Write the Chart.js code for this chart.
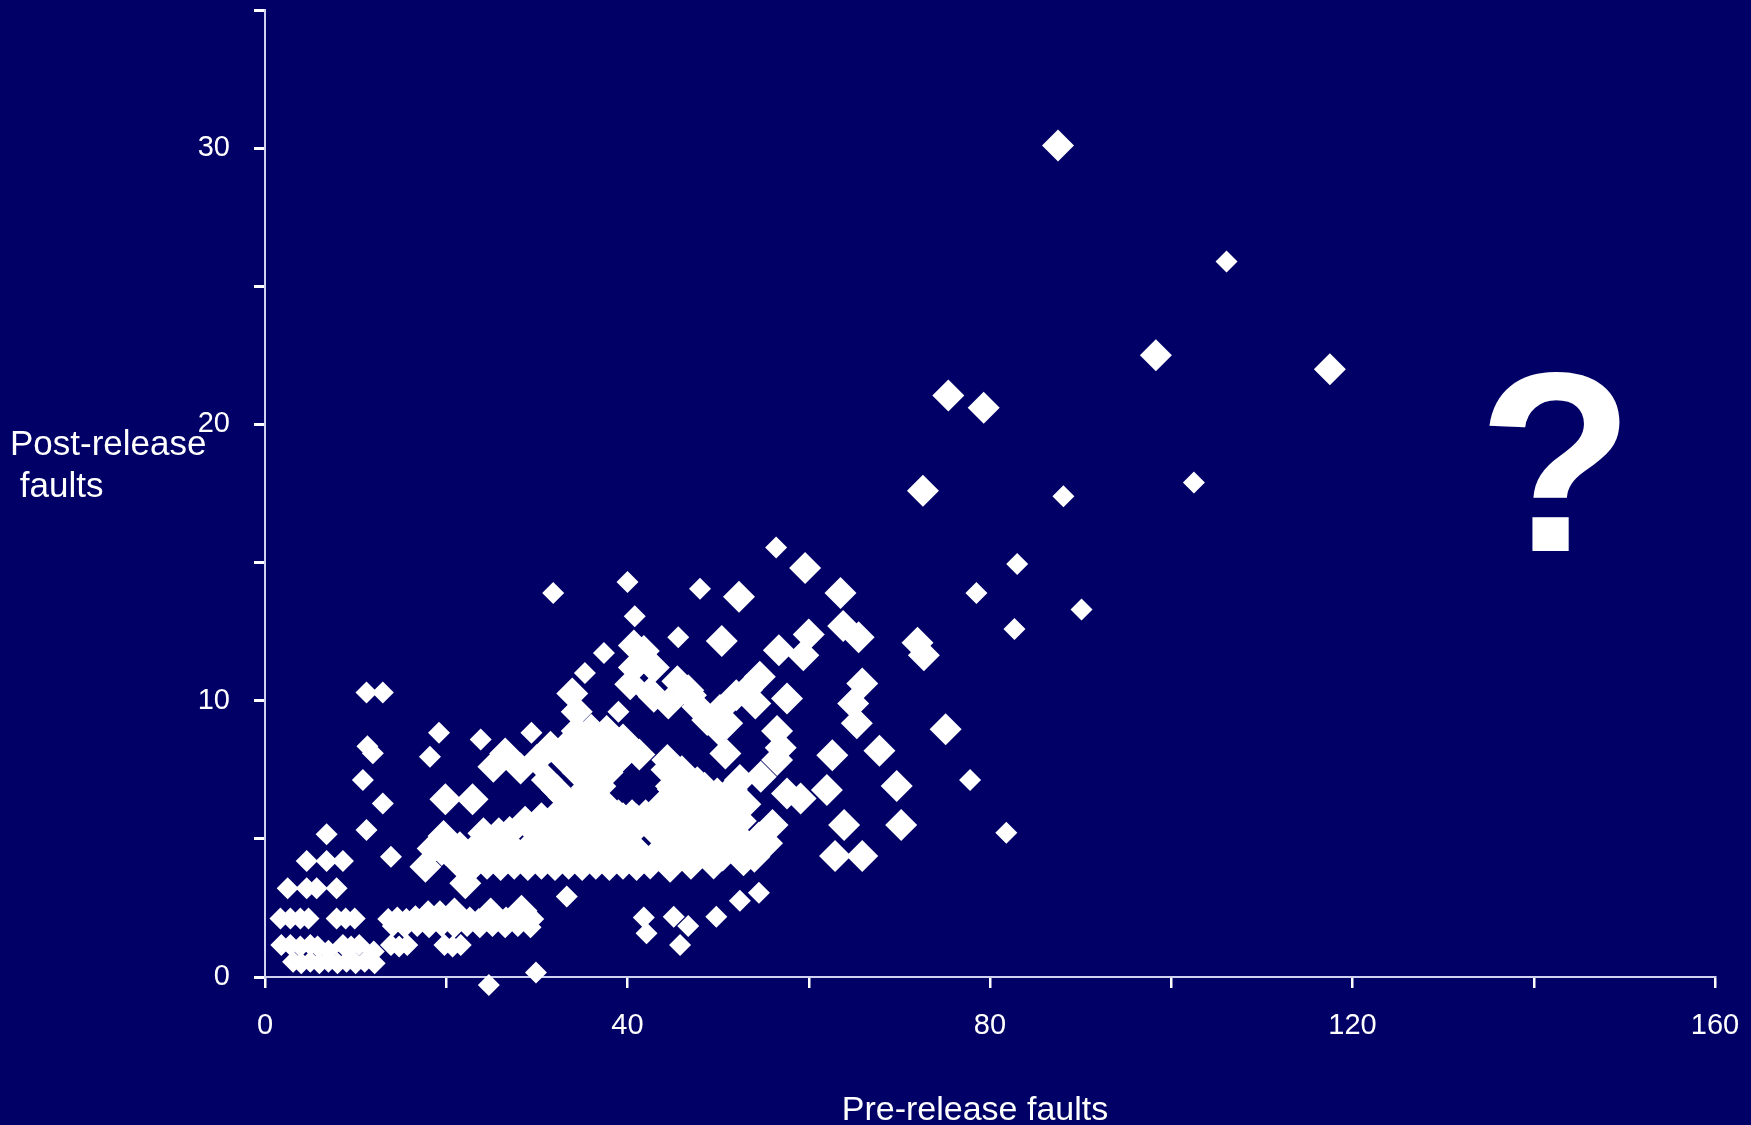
<!DOCTYPE html>
<html>
<head>
<meta charset="utf-8">
<title>Pre-release vs post-release faults</title>
<script src="https://cdn.jsdelivr.net/npm/chart.js@4/dist/chart.umd.min.js"></script>
<style>
    html, body { margin: 0; padding: 0; background: #000066; }
    #wrap { width: 1751px; height: 1125px; position: relative; }
</style>
</head>
<body>
<div id="wrap"><canvas id="faultChart"></canvas></div>
<script>
// ===========================
// Data
// ===========================

// small diamonds
const smallX = [
    3.1, 4.0, 5.0, 6.0, 7.0, 8.0, 9.0, 10.0, 11.0, 12.1,
    1.8, 2.8, 3.9, 5.0, 5.8, 7.0, 8.6, 9.5, 10.4, 12.0, 13.9, 14.8, 15.7, 19.8, 20.7, 21.6,
    1.7, 2.8, 3.9, 4.8, 7.9, 8.9, 9.9,
    13.6, 14.6, 15.6, 16.6, 17.6, 18.6, 19.6, 20.6, 21.6, 22.6, 23.6, 24.6, 25.6, 26.6, 27.6, 28.6, 29.6,
    14.1, 15.4, 16.8, 18.1, 19.5, 20.9, 22.3, 23.7, 25.1, 26.5, 27.9, 29.3,
    2.5, 4.6, 5.7, 7.9, 4.6, 6.8, 8.6, 6.8,
    11.2, 13.0, 11.3, 11.9, 10.8, 13.0, 11.2, 13.9,
    19.2, 18.2, 23.8, 29.4, 33.3, 24.7, 29.9,
    41.8, 42.1, 45.1, 46.7, 45.8, 49.8, 52.4, 54.5,
    39.0, 37.4, 35.3, 31.8, 40.0, 40.8, 45.6, 48.0, 56.4,
    106.1, 88.1, 102.5, 83.0, 78.5, 90.1, 82.7, 77.8, 81.8
];
const smallY = [
    0.55, 0.5, 0.55, 0.5, 0.55, 0.5, 0.55, 0.5, 0.55, 0.5,
    1.16, 1.16, 1.1, 1.16, 1.1, 0.95, 1.16, 1.1, 1.16, 0.92, 1.16, 1.1, 1.16, 1.16, 1.1, 1.16,
    2.12, 2.12, 2.12, 2.12, 2.12, 2.12, 2.12,
    2.1, 2.15, 2.1, 2.2, 2.1, 2.15, 2.1, 2.2, 2.1, 2.15, 2.1, 2.2, 2.1, 2.15, 2.1, 2.2, 2.1,
    1.85, 1.8, 1.85, 1.8, 1.85, 1.8, 1.85, 1.8, 1.85, 1.8, 1.85, 1.8,
    3.21, 3.21, 3.21, 3.21, 4.2, 4.2, 4.2, 5.17,
    10.3, 10.3, 8.35, 8.1, 7.13, 6.28, 5.32, 4.35,
    8.84, 7.97, 8.6, 8.84, 2.91, -0.29, 0.16,
    2.15, 1.58, 2.18, 1.85, 1.16, 2.18, 2.76, 3.05,
    9.6, 11.73, 11.0, 13.9, 14.3, 13.06, 12.3, 14.05, 15.55,
    25.9, 17.4, 17.9, 14.95, 13.9, 13.3, 12.6, 7.13, 5.22
];

// large diamonds
const largeX = [
    87.5, 98.3, 117.5, 75.4, 79.3, 72.6, 75.1, 72.0, 72.7,
    69.7, 70.2, 67.8, 65.9, 64.9, 65.3, 63.9, 65.9, 62.9, 62.0, 62.6,
    63.5, 59.6, 52.3, 50.4, 56.7, 60.0, 59.4, 63.8, 65.5,
    57.6, 54.6, 54.1, 52.0, 50.2, 51.0, 56.5, 56.9, 56.5, 54.7, 52.4, 50.8,
    57.6, 59.1, 56.0, 55.4, 53.2, 52.8, 49.5, 51.0, 48.8, 45.5, 42.9, 42.5, 44.7, 46.2, 52.1,
    47.7, 44.4, 44.8, 46.2, 49.9, 46.7, 47.7, 48.8, 50.1, 42.9, 41.8, 45.5, 44.5, 47.0, 42.5,
    40.7, 40.7, 40.3, 42.9, 33.9, 34.4, 53.2,
    19.9, 22.9, 17.7, 22.1, 19.7, 19.5, 24.1, 28.7, 18.0, 19.3, 20.9, 24.9, 28.3,
    25.2, 26.5, 28.2, 30.0, 31.5, 31.1, 32.2, 32.9,
    21.5, 23.0, 24.5, 26.0, 27.5, 29.0, 30.5, 32.0, 33.5, 35.0, 36.5, 38.0, 39.5, 41.0, 47.0,
    18.5, 20.0, 21.5, 23.0, 24.5, 26.0, 27.5, 29.0, 30.5, 32.0, 33.5, 35.0, 36.5, 38.0, 39.5, 41.0, 43.8, 48.0, 49.8,
    25.8, 27.0, 30.0, 31.5, 33.0, 34.5, 36.0, 37.5, 39.0, 40.5, 44.0, 47.2,
    30.5, 32.0, 33.5, 35.0, 36.5, 38.0, 39.5, 41.0, 43.5, 47.0, 50.5,
    34.0, 36.0, 37.5, 39.0, 40.5, 42.0, 44.0, 47.8,
    35.5, 37.0, 48.5,
    34.5, 36.0, 37.8, 44.3, 46.0,
    33.0, 35.5, 37.0, 39.0, 41.3,
    33.5, 35.0, 36.6, 38.5, 40.0,
    34.4, 36.0, 37.7, 39.5,
    45.5, 48.5, 50.5, 54.0,
    44.5, 46.5, 48.0, 50.0, 52.5, 54.5,
    47.0, 49.5, 51.5, 52.5,
    45.5, 48.0, 50.5, 53.0,
    45.0, 47.0, 51.5,
    49.0, 51.2,
    46.0
];
const largeY = [
    30.1, 22.5, 22.0, 21.05, 20.6, 17.6, 8.97, 12.1, 11.65,
    6.91, 5.5, 8.19, 10.62, 9.9, 9.18, 5.5, 4.38, 4.38, 6.77, 8.03,
    13.9, 14.8, 13.76, 12.16, 11.83, 12.4, 11.65, 12.7, 12.3,
    10.08, 10.87, 9.9, 10.2, 9.66, 9.18, 8.9, 8.3, 7.85, 7.25, 7.13, 8.09,
    6.64, 6.46, 5.5, 4.84, 4.72, 4.23, 4.11, 5.08, 5.68, 5.68, 5.32, 4.11, 3.99, 4.72, 4.47,
    7.05, 7.85, 6.9, 6.64, 6.64, 10.38, 9.78, 9.3, 8.94, 11.2, 11.8, 10.7, 9.9, 10.2, 10.3,
    12.0, 11.2, 10.6, 10.14, 10.26, 9.6, 10.4,
    6.43, 6.43, 3.99, 3.39, 5.1, 4.6, 5.2, 5.62, 2.2, 2.2, 2.3, 2.3, 2.4,
    7.61, 8.09, 7.55, 7.85, 8.33, 7.13, 6.77, 6.52,
    4.1, 4.05, 4.1, 4.05, 4.1, 4.05, 4.1, 4.05, 4.1, 4.05, 4.1, 4.05, 4.1, 4.05, 4.1,
    4.65, 4.6, 4.7, 4.6, 4.65, 4.7, 4.6, 4.65, 4.7, 4.6, 4.65, 4.7, 4.6, 4.65, 4.7, 4.6, 4.65, 4.7, 4.6,
    5.2, 5.25, 5.2, 5.15, 5.2, 5.25, 5.2, 5.15, 5.2, 5.25, 5.2, 5.15,
    5.75, 5.8, 5.75, 5.7, 5.75, 5.8, 5.75, 5.7, 5.75, 5.8, 5.75,
    6.3, 6.3, 6.25, 5.85, 5.85, 5.85, 6.3, 6.25,
    6.85, 6.9, 6.85,
    7.4, 7.45, 7.4, 7.5, 7.35,
    7.9, 7.95, 7.9, 7.85, 8.05,
    8.45, 8.4, 8.45, 8.5, 8.2,
    8.9, 8.95, 8.9, 8.6,
    4.4, 4.45, 4.4, 4.35,
    5.0, 5.05, 5.0, 4.95, 5.0, 5.05,
    5.6, 5.55, 5.6, 5.65,
    6.2, 6.15, 6.2, 6.25,
    6.8, 6.85, 6.8,
    6.6, 6.2,
    7.45
];

const xTickLabels = [0, 40, 80, 120, 160];
const yTickLabels = [0, 10, 20, 30];

const toPoints = (xs, ys) => xs.map((x, i) => ({ x: x, y: ys[i] }));

// ===========================
// Free text on the slide
// ===========================

const slideText = {
    id: 'slideText',
    afterDraw(chart) {
        const ctx = chart.ctx;
        ctx.save();
        ctx.fillStyle = '#ffffff';
        ctx.font = '35px "Liberation Sans", Arial, sans-serif';
        ctx.textBaseline = 'middle';
        ctx.textAlign = 'left';
        ctx.fillText('Post-release', 10, 445);
        ctx.fillText(' faults', 10, 487);
        ctx.font = '34px "Liberation Sans", Arial, sans-serif';
        ctx.textAlign = 'center';
        ctx.fillText('Pre-release faults', 975, 1111);
        ctx.font = 'bold 256px "Liberation Sans", Arial, sans-serif';
        ctx.textBaseline = 'alphabetic';
        ctx.fillText('?', 1556, 551);
        ctx.restore();
    }
};

// ===========================
// Chart
// ===========================

const fontFamily = '"Liberation Sans", Arial, sans-serif';

new Chart(document.getElementById('faultChart'), {
    type: 'scatter',
    data: {
        datasets: [
            {
                label: 'large',
                data: toPoints(largeX, largeY),
                pointStyle: 'rectRot',
                pointRadius: 16,
                pointHoverRadius: 16,
                backgroundColor: '#ffffff',
                borderWidth: 0,
                clip: false
            },
            {
                label: 'small',
                data: toPoints(smallX, smallY),
                pointStyle: 'rectRot',
                pointRadius: 11,
                pointHoverRadius: 11,
                backgroundColor: '#ffffff',
                borderWidth: 0,
                clip: false
            }
        ]
    },
    options: {
        responsive: true,
        maintainAspectRatio: false,
        animation: false,
        layout: {
            autoPadding: false,
            padding: { top: 10, right: 36, bottom: 0, left: 0 }
        },
        plugins: {
            legend: { display: false },
            tooltip: { enabled: false }
        },
        scales: {
            x: {
                type: 'linear',
                min: 0,
                max: 160,
                border: { color: '#d0d0f0', width: 2 },
                grid: {
                    drawOnChartArea: false,
                    tickLength: 11,
                    color: '#ffffff',
                    lineWidth: 2.5
                },
                ticks: {
                    stepSize: 20,
                    autoSkip: false,
                    maxRotation: 0,
                    color: '#ffffff',
                    font: { family: fontFamily, size: 29 },
                    padding: 21,
                    callback: function(value) {
                        return xTickLabels.includes(value) ? String(value) : '';
                    }
                },
                afterFit: function(scale) {
                    scale.height = 148;
                    scale.paddingLeft = 0;
                    scale.paddingRight = 0;
                }
            },
            y: {
                type: 'linear',
                min: 0,
                max: 35,
                border: { color: '#d0d0f0', width: 2 },
                grid: {
                    drawOnChartArea: false,
                    tickLength: 11,
                    color: '#ffffff',
                    lineWidth: 3
                },
                ticks: {
                    stepSize: 5,
                    autoSkip: false,
                    color: '#ffffff',
                    font: { family: fontFamily, size: 29, lineHeight: 0.5 },
                    padding: 24,
                    callback: function(value) {
                        return yTickLabels.includes(value) ? String(value) : '';
                    }
                },
                afterFit: function(scale) {
                    scale.width = 265;
                    scale.paddingTop = 0;
                    scale.paddingBottom = 0;
                }
            }
        }
    },
    plugins: [slideText]
});
</script>
</body>
</html>
